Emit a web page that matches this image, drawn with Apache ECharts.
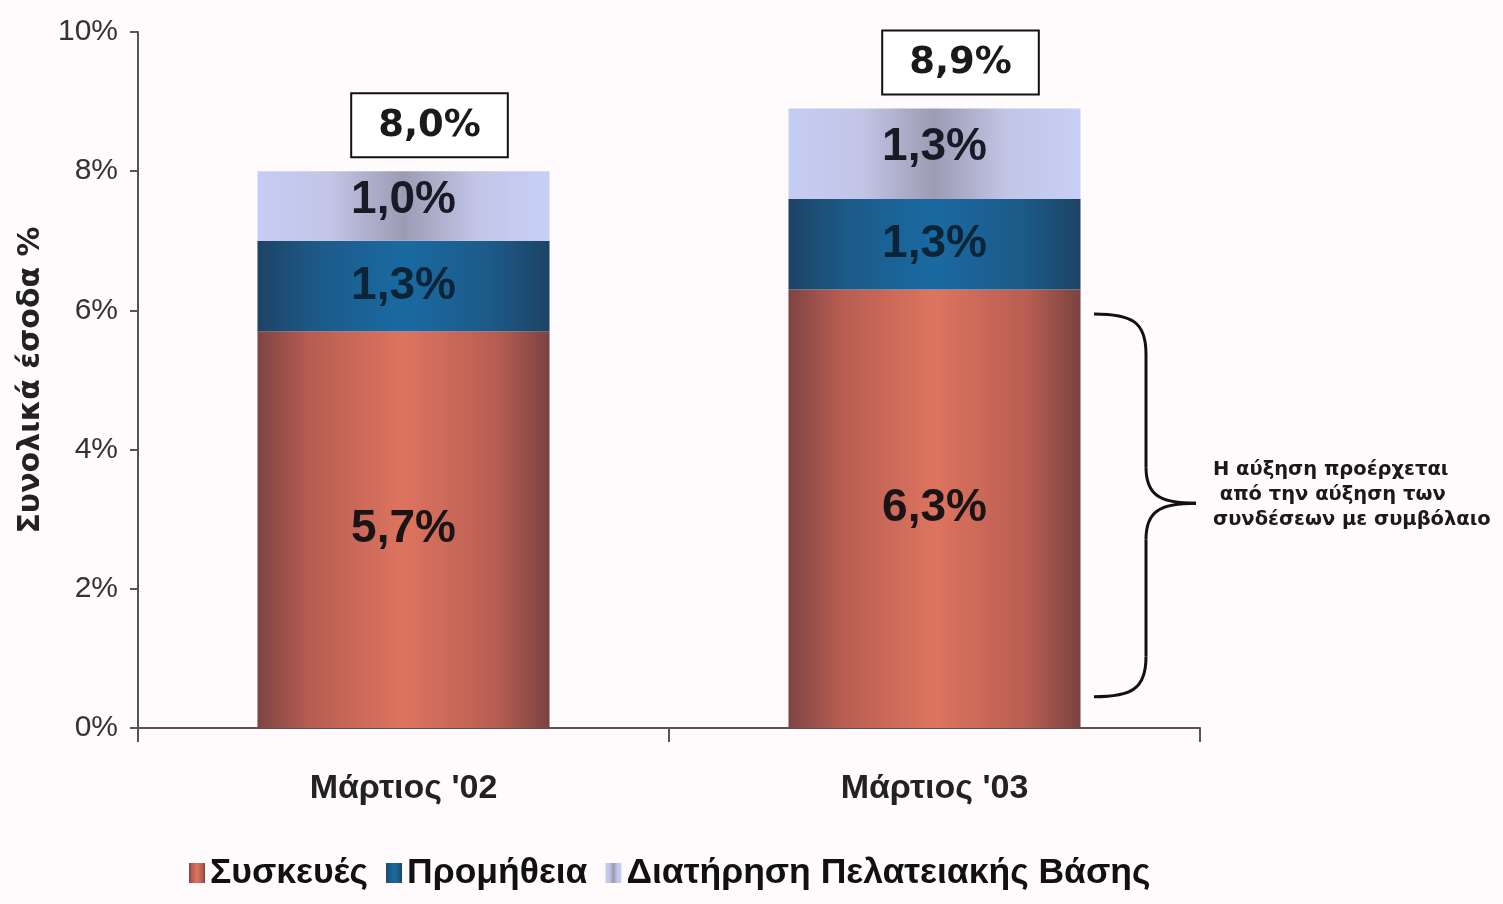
<!DOCTYPE html>
<html><head><meta charset="utf-8">
<script src="https://cdn.jsdelivr.net/npm/echarts@6/dist/echarts.min.js"></script>
<style>html,body{margin:0;padding:0;background:#fffbfd}#c{width:1503px;height:904px}</style>
</head><body><div id="c"></div>
<script>
const categories = ["Μάρτιος '02", "Μάρτιος '03"];
const seriesNames = ["Συσκευές", "Προμήθεια", "Διατήρηση Πελατειακής Βάσης"];
const devices = [5.7, 6.3];
const commission = [1.3, 1.3];
const retention = [1.0, 1.3];
const totals = [8.0, 8.9];
const yTicks = [0, 2, 4, 6, 8, 10];
const yAxisTitle = "Συνολικά έσοδα %";
const annotationLines = ["Η αύξηση προέρχεται", " από την αύξηση των", "συνδέσεων με συμβόλαιο"];

const NARROW = '"Liberation Sans Narrow", "Arial Narrow", "Liberation Sans", sans-serif';
const fmt = v => v.toFixed(1).replace('.', ',') + '%';

function hGrad(stops) {
  return new echarts.graphic.LinearGradient(0, 0, 1, 0, stops.map(s => ({offset: s[0], color: s[1]})));
}
const redGrad = hGrad([[0, '#7e4442'], [0.18, '#b85d52'], [0.5, '#dd745f'], [0.82, '#b85d52'], [1, '#7a4341']]);
const blueGrad = hGrad([[0, '#1d4365'], [0.2, '#1c5a88'], [0.5, '#1a6aa2'], [0.8, '#1c5a88'], [1, '#1d4365']]);
const lightGrad = hGrad([[0, '#c6cdf4'], [0.25, '#c2c5e6'], [0.5, '#9d9bb4'], [0.75, '#c2c5e6'], [1, '#c8cff6']]);

const segLabel = (color) => ({
  show: true, position: 'inside', formatter: p => fmt(p.value),
  fontFamily: NARROW, fontWeight: 'bold', fontSize: 46, color: color
});

const chart = echarts.init(document.getElementById('c'), null, {renderer: 'canvas'});
const option = {
  backgroundColor: '#fffbfd',
  animation: false,
  grid: {left: 138, right: 303, top: 32, bottom: 176, containLabel: false},
  legend: {
    data: seriesNames, bottom: 8, left: 184, itemGap: 18,
    icon: 'rect', itemWidth: 16, itemHeight: 20,
    textStyle: {fontFamily: NARROW, fontWeight: 'bold', fontSize: 35.5, color: '#111'}
  },
  xAxis: {
    type: 'category', data: categories,
    axisLine: {lineStyle: {color: '#555', width: 2}},
    axisTick: {show: true, length: 14, lineStyle: {color: '#555', width: 2}},
    axisLabel: {fontFamily: NARROW, fontWeight: 'bold', fontSize: 34, color: '#222', margin: 44}
  },
  yAxis: {
    type: 'value', min: yTicks[0], max: yTicks[yTicks.length - 1], interval: 2,
    name: yAxisTitle, nameLocation: 'middle', nameRotate: 90, nameGap: 92,
    nameTextStyle: {fontFamily: '"DejaVu Sans", sans-serif', fontWeight: 'bold', fontSize: 30, color: '#222'},
    axisLine: {show: true, lineStyle: {color: '#555', width: 2}},
    axisTick: {show: true, length: 8, lineStyle: {color: '#555', width: 2}},
    splitLine: {show: false},
    axisLabel: {formatter: '{value}%', fontFamily: NARROW, fontSize: 30, color: '#333', margin: 20}
  },
  series: [
    {name: seriesNames[0], type: 'bar', stack: 'tot', barWidth: '55%', data: devices,
     itemStyle: {color: redGrad}, label: segLabel('#1a1416')},
    {name: seriesNames[1], type: 'bar', stack: 'tot', data: commission,
     itemStyle: {color: blueGrad}, label: segLabel('#0c2438')},
    {name: seriesNames[2], type: 'bar', stack: 'tot', data: retention,
     itemStyle: {color: lightGrad}, label: Object.assign(segLabel('#1a1a26'), {offset: [0, -6]})},
    {name: 'Σύνολο', type: 'line', data: totals, symbol: 'circle', symbolSize: 2, showSymbol: true,
     silent: true, lineStyle: {width: 0, color: 'rgba(0,0,0,0)'}, itemStyle: {color: 'rgba(0,0,0,0)', borderWidth: 0}, z: 10,
     label: {
       show: true, position: 'top', distance: 14, offset: [26, 0], formatter: p => fmt(p.value),
       fontFamily: '"DejaVu Sans", sans-serif', fontWeight: 'bold', fontSize: 37, color: '#1a1a1a',
       backgroundColor: '#ffffff', borderColor: '#111', borderWidth: 2,
       padding: [12, 26, 10, 26], lineHeight: 40
     }}
  ]
};
chart.setOption(option);

// Brace annotation next to the second bar's device segment
const yT = chart.convertToPixel({yAxisIndex: 0}, 5.95);
const yB = chart.convertToPixel({yAxisIndex: 0}, 0.45);
const yM = (yT + yB) / 2 - 2;
const x0 = 1094, xm = 1146, xp = 1196;
const st = {stroke: '#111', lineWidth: 3, fill: null};
const bz = (x1, y1, cx1, cy1, cx2, cy2, x2, y2) => ({type: 'bezierCurve', shape: {x1, y1, cpx1: cx1, cpy1: cy1, cpx2: cx2, cpy2: cy2, x2, y2}, style: st});
const ln = (x1, y1, x2, y2) => ({type: 'line', shape: {x1, y1, x2, y2}, style: st});
chart.setOption({
  graphic: [
    bz(x0, yT, x0 + 38, yT, xm, yT + 8, xm, yT + 40),
    ln(xm, yT + 40, xm, yM - 36),
    bz(xm, yM - 36, xm, yM - 8, xm + 14, yM, xp, yM),
    bz(xp, yM, xm + 14, yM, xm, yM + 8, xm, yM + 36),
    ln(xm, yM + 36, xm, yB - 40),
    bz(xm, yB - 40, xm, yB - 8, x0 + 38, yB, x0, yB),
    {type: 'text', left: 1213, top: yM - 46,
     style: {text: annotationLines.join('\n'), fontFamily: '"DejaVu Sans", sans-serif', fontWeight: 'bold',
             fontSize: 19.5, lineHeight: 25, fill: '#1a1a1a', textAlign: 'left'}}
  ]
});
</script>
</body></html>
